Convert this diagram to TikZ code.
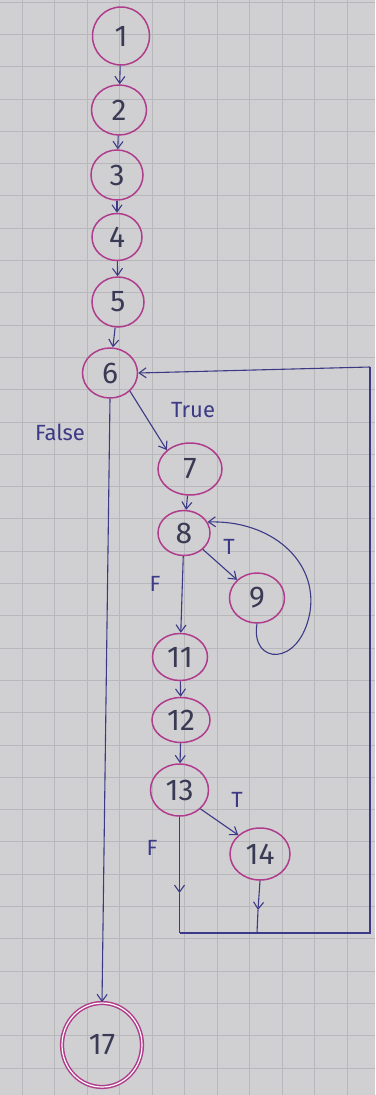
\documentclass[tikz,border=0pt]{standalone}
\usepackage{fontspec}
\setmainfont{Fira Sans}
\usetikzlibrary{shapes.geometric,arrows.meta}
\definecolor{paper}{HTML}{D0D0D3}
\definecolor{gridc}{HTML}{B8B8BC}
\definecolor{ring}{HTML}{B03C8C}
\definecolor{ink}{HTML}{3C3A86}
\definecolor{txt}{HTML}{3A3A55}
\tikzset{
  vtx/.style={draw=ring, line width=1.5pt, ellipse, inner sep=0pt,
     minimum width=55pt, minimum height=50pt, text=txt,
     font=\fontsize{30}{30}\selectfont},
  edge/.style={draw=ink, line width=1.1pt},
  arr/.style={edge, -{Straight Barb[length=7pt,width=10pt,line width=1.1pt]}},
  lbl/.style={text=ink, font=\fontsize{22}{22}\selectfont, inner sep=0pt},
  gridl/.style={draw=gridc, line width=0.8pt}
}
\begin{document}
\begin{tikzpicture}[x=1pt,y=-1pt]
\fill[paper] (0,0) rectangle (375,1095);
\useasboundingbox (0,0) rectangle (375,1095);
\foreach \i in {0,...,10} \draw[gridl] ({22+32.5*\i},0) -- ({22+32.5*\i},1095);
\foreach \j in {0,...,33} \draw[gridl] (0,{2+32.3*\j}) -- (375,{2+32.3*\j});

\node[vtx, minimum width=57pt, minimum height=58pt] (n1) at (121,36) {1};
\node[vtx] (n2) at (119,110) {2};
\node[vtx, minimum width=52pt] (n3) at (117,175) {3};
\node[vtx, minimum width=50pt, minimum height=47pt] (n4) at (117,237) {4};
\node[vtx, minimum width=52pt] (n5) at (118,302) {5};
\node[vtx] (n6) at (110,373) {6};
\node[vtx, minimum width=64pt, minimum height=52pt] (n7) at (190,469) {7};
\node[vtx, minimum width=52pt, minimum height=45pt] (n8) at (184,533) {8};
\node[vtx] (n9) at (257,598) {9};
\node[vtx, minimum height=47pt] (n11) at (180,657) {11};
\node[vtx, minimum width=58pt, minimum height=45pt] (n12) at (181,720) {12};
\node[vtx, minimum width=58pt, minimum height=52pt] (n13) at (179.5,790) {13};
\node[vtx, minimum width=60pt, minimum height=52pt] (n14) at (260,854) {14};
\node[vtx, minimum width=80pt, minimum height=84pt, double, double distance=1.2pt] (n17) at (102,1045) {17};

\draw[arr] (n1) -- (n2);
\draw[arr] (n2) -- (n3);
\draw[arr] (n3) -- (n4);
\draw[arr] (n4) -- (n5);
\draw[arr] (n5) -- (n6);
\draw[arr] (n6.south east) -- (n7.north west);
\draw[arr] (n6.south) -- (n17.north);
\draw[arr] (n7) -- (n8);
\draw[arr] (n8.south east) -- (n9.north west);
\draw[arr] (n8) -- (n11);
\draw[arr] (n9.south) .. controls (250,665) and (300,668) .. (310,612)
   .. controls (318,560) and (270,520) .. (n8.25);
\draw[arr] (n11) -- (n12);
\draw[arr] (n12) -- (n13);
\draw[arr] (n13.south east) -- (n14.north west);

\coordinate (m13) at (179.5,893);
\coordinate (j13) at (179.5,933);
\coordinate (m14) at (258,910);
\coordinate (j14) at (257,933);
\coordinate (br) at (370,933);
\coordinate (tr) at (370,367);
\draw[arr] (n13.south) -- (m13);
\draw[edge] (m13) -- (j13);
\draw[arr] (n14.south) -- (m14);
\draw[edge] (m14) -- (j14);
\draw[edge] (j13) -- (br) -- (tr);
\draw[arr] (tr) -- (n6.east);

\node[lbl] (lTrue) at (193,410) {True};
\node[lbl] (lFalse) at (60,432) {False};
\node[lbl] (lT1) at (229,547) {T};
\node[lbl] (lF1) at (155,584) {F};
\node[lbl] (lT2) at (237,800) {T};
\node[lbl] (lF2) at (152,848) {F};
\end{tikzpicture}
\end{document}
